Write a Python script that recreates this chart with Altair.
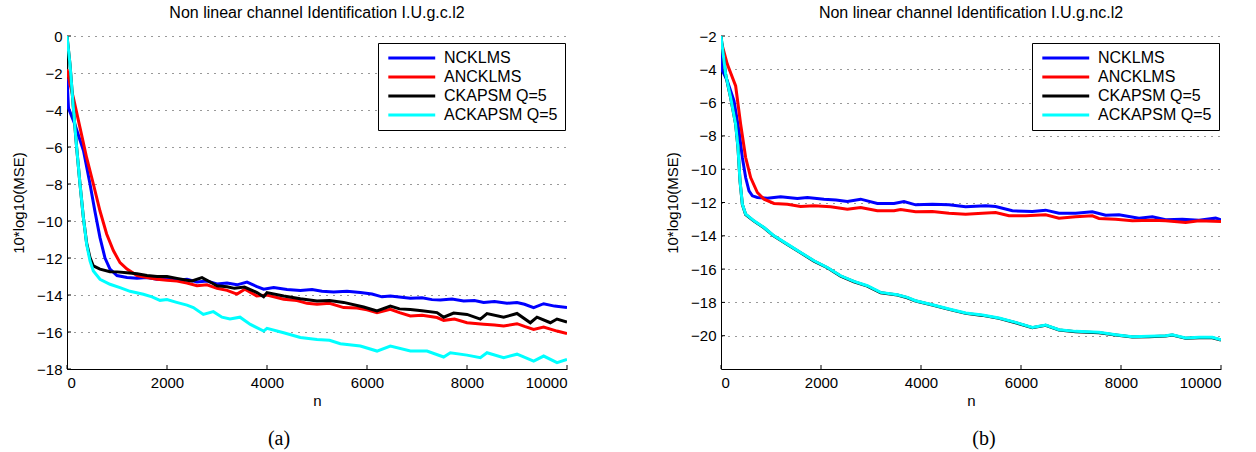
import altair as alt
import pandas as pd

SERIES = ["NCKLMS", "ANCKLMS", "CKAPSM Q=5", "ACKAPSM Q=5"]
COLORS = ["#0000ff", "#ff0000", "#000000", "#00ffff"]

TITLE_A = "Non linear channel Identification I.U.g.c.l2"
TITLE_B = "Non linear channel Identification I.U.g.nc.l2"
X_TICKS = [0, 2000, 4000, 6000, 8000, 10000]
Y_TICKS_A = [0, -2, -4, -6, -8, -10, -12, -14, -16, -18]
Y_TICKS_B = [-2, -4, -6, -8, -10, -12, -14, -16, -18, -20]
CAPTIONS = ["(a)", "(b)"]

# ---- panel (a): [n, 10*log10(MSE)] ----
a_ncklms = [[0, -2.3], [30, -3.9], [160, -4.8], [330, -6.2], [460, -8.0], [560, -9.5],
            [660, -10.9], [760, -12.0], [860, -12.6], [1000, -12.95], [1200, -13.05],
            [1400, -13.1], [1600, -13.05], [1800, -13.15], [2000, -13.1], [2200, -13.2],
            [2400, -13.15], [2600, -13.3], [2800, -13.25], [3000, -13.4], [3200, -13.35],
            [3400, -13.45], [3600, -13.3], [3800, -13.55], [3933, -13.69], [4133, -13.6],
            [4400, -13.7], [4667, -13.75], [4900, -13.7], [5100, -13.8], [5333, -13.84],
            [5600, -13.8], [5867, -13.87], [6100, -13.95], [6300, -14.1], [6467, -14.05],
            [6867, -14.18], [7100, -14.15], [7300, -14.25], [7467, -14.27], [7700, -14.22],
            [7933, -14.32], [8150, -14.3], [8333, -14.41], [8550, -14.35], [8800, -14.45],
            [9000, -14.41], [9150, -14.5], [9333, -14.68], [9533, -14.47], [9750, -14.6],
            [10000, -14.68]]
a_ancklms = [[0, -1.8], [60, -2.6], [127, -3.33], [260, -4.95], [393, -6.58], [527, -8.0],
             [660, -9.46], [793, -10.7], [927, -11.6], [1060, -12.25], [1200, -12.6],
             [1400, -12.95], [1600, -13.05], [1800, -13.15], [2000, -13.2], [2200, -13.25],
             [2400, -13.35], [2600, -13.5], [2800, -13.45], [3000, -13.64], [3200, -13.75],
             [3400, -13.95], [3557, -13.69], [3794, -14.05], [4000, -14.0], [4333, -14.23],
             [4600, -14.3], [4800, -14.45], [5000, -14.5], [5250, -14.45], [5533, -14.68],
             [5800, -14.7], [6000, -14.8], [6200, -14.95], [6467, -14.77], [6650, -14.95],
             [6867, -15.13], [7100, -15.1], [7400, -15.22], [7533, -15.37], [7750, -15.3],
             [8000, -15.5], [8333, -15.58], [8550, -15.62], [8733, -15.68], [9000, -15.55],
             [9150, -15.7], [9333, -15.86], [9533, -15.73], [9800, -15.95], [10000, -16.09]]
a_ckapsm = [[0, 0.0], [60, -1.53], [127, -3.87], [193, -6.04], [260, -8.0], [327, -9.8],
            [393, -11.2], [460, -11.98], [527, -12.43], [660, -12.6], [860, -12.74],
            [1000, -12.75], [1200, -12.8], [1400, -12.85], [1600, -12.95], [1800, -13.0],
            [2000, -13.0], [2200, -13.1], [2400, -13.2], [2500, -13.24], [2700, -13.06],
            [2900, -13.35], [3000, -13.5], [3200, -13.55], [3350, -13.64], [3550, -13.57],
            [3800, -13.87], [3933, -14.09], [4000, -13.87], [4333, -14.05], [4667, -14.2],
            [5000, -14.32], [5250, -14.3], [5533, -14.4], [5933, -14.65], [6200, -14.86],
            [6467, -14.6], [6650, -14.75], [6867, -14.78], [7100, -14.85], [7400, -14.95],
            [7533, -15.2], [7733, -14.98], [8000, -15.05], [8267, -15.3], [8400, -15.0],
            [8733, -15.2], [9000, -15.0], [9267, -15.5], [9400, -15.2], [9667, -15.5],
            [9800, -15.3], [10000, -15.46]]
a_ackapsm = [[0, 0.0], [60, -1.53], [127, -3.87], [193, -6.04], [260, -8.0], [327, -9.8],
             [393, -11.26], [460, -12.16], [527, -12.7], [660, -13.15], [860, -13.42],
             [1060, -13.6], [1260, -13.8], [1527, -13.96], [1700, -14.1], [1860, -14.29],
             [2000, -14.25], [2193, -14.4], [2400, -14.55], [2527, -14.68], [2727, -15.05],
             [2927, -14.9], [3100, -15.2], [3260, -15.3], [3460, -15.2], [3667, -15.59],
             [3933, -15.95], [4000, -15.8], [4333, -16.04], [4667, -16.3], [5000, -16.4],
             [5250, -16.45], [5467, -16.63], [5867, -16.76], [6200, -17.03], [6467, -16.76],
             [6867, -17.03], [7200, -17.03], [7533, -17.35], [7667, -17.12], [8000, -17.25],
             [8267, -17.39], [8400, -17.12], [8733, -17.39], [9000, -17.2], [9333, -17.57],
             [9533, -17.3], [9800, -17.66], [10000, -17.48]]

# ---- panel (b) ----
b_ncklms = [[0, -2.1], [15, -4.0], [127, -4.7], [260, -5.9], [360, -7.7], [427, -9.3],
            [493, -10.5], [560, -11.3], [627, -11.6], [727, -11.7], [927, -11.74],
            [1193, -11.66], [1527, -11.76], [1727, -11.7], [2060, -11.8], [2300, -11.85],
            [2527, -11.94], [2793, -11.8], [3127, -12.06], [3460, -12.06], [3660, -11.94],
            [3893, -12.14], [4227, -12.1], [4560, -12.14], [4893, -12.26], [5293, -12.2],
            [5493, -12.24], [5827, -12.5], [6227, -12.54], [6493, -12.46], [6760, -12.64],
            [7093, -12.64], [7427, -12.56], [7693, -12.76], [7960, -12.74], [8360, -12.94],
            [8627, -12.86], [8893, -13.04], [9227, -13.0], [9560, -13.06], [9893, -12.94],
            [10000, -13.04]]
b_ancklms = [[0, -2.3], [127, -3.7], [293, -5.0], [393, -7.3], [493, -9.3], [593, -10.5],
             [727, -11.4], [860, -11.8], [1060, -12.06], [1327, -12.1], [1593, -12.24],
             [1860, -12.2], [2193, -12.26], [2527, -12.4], [2793, -12.3], [3127, -12.5],
             [3460, -12.5], [3593, -12.42], [3893, -12.56], [4227, -12.54], [4560, -12.64],
             [4893, -12.7], [5227, -12.64], [5493, -12.6], [5760, -12.8], [6093, -12.8],
             [6493, -12.74], [6760, -12.94], [7093, -12.86], [7427, -12.8], [7560, -12.96],
             [7893, -13.0], [8227, -13.1], [8627, -13.06], [8893, -13.1], [9293, -13.2],
             [9560, -13.1], [10000, -13.14]]
b_ckapsm = [[0, -2.0], [93, -4.32], [193, -5.72], [293, -7.3], [340, -8.72], [380, -10.7],
            [427, -12.12], [493, -12.72], [660, -13.12], [860, -13.52], [1060, -14.02],
            [1327, -14.52], [1593, -15.02], [1860, -15.52], [2127, -15.92], [2393, -16.42],
            [2660, -16.76], [2927, -17.02], [3193, -17.42], [3527, -17.56], [3727, -17.72],
            [3893, -17.92], [4227, -18.16], [4560, -18.42], [4893, -18.66], [5227, -18.78],
            [5560, -18.96], [5893, -19.22], [6227, -19.52], [6493, -19.38], [6760, -19.66],
            [7093, -19.76], [7560, -19.82], [7893, -19.96], [8227, -20.08], [8560, -20.06],
            [8893, -20.02], [9027, -19.96], [9293, -20.16], [9560, -20.12], [9827, -20.12],
            [10000, -20.26]]
b_ackapsm = [[0, -2.0], [93, -4.3], [193, -5.7], [293, -7.3], [340, -8.7], [380, -10.7],
             [427, -12.1], [493, -12.7], [660, -13.1], [860, -13.5], [1060, -14.0],
             [1327, -14.5], [1593, -15.0], [1860, -15.5], [2127, -15.9], [2393, -16.4],
             [2660, -16.74], [2927, -17.0], [3193, -17.4], [3527, -17.54], [3727, -17.7],
             [3893, -17.9], [4227, -18.14], [4560, -18.4], [4893, -18.64], [5227, -18.76],
             [5560, -18.94], [5893, -19.2], [6227, -19.5], [6493, -19.36], [6760, -19.64],
             [7093, -19.74], [7560, -19.8], [7893, -19.94], [8227, -20.06], [8560, -20.04],
             [8893, -20.0], [9027, -19.94], [9293, -20.14], [9560, -20.1], [9827, -20.1],
             [10000, -20.24]]

FONT = "Liberation Sans"
W, H = 500, 333
TICK_LEN = 4


def make_frame(all_pairs):
    rows = []
    for name, pairs in zip(SERIES, all_pairs):
        for n, v in pairs:
            rows.append({"n": n, "mse": v, "alg": name})
    return pd.DataFrame(rows)


def panel(all_pairs, title, ydomain, yticks, caption, cap_x):
    df = make_frame(all_pairs)
    color = alt.Color(
        "alg:N",
        scale=alt.Scale(domain=SERIES, range=COLORS),
        legend=alt.Legend(
            orient="none", legendX=311, legendY=7, title=None,
            symbolType="M-1,0H9", symbolSize=88, symbolStrokeWidth=3,
            symbolFillColor="transparent",
            labelFont=FONT, labelFontSize=16, labelColor="black", labelOffset=43,
            padding=7, rowPadding=3, strokeColor="black", fillColor="white",
        ),
    )
    x = alt.X("n:Q", scale=alt.Scale(domain=[0, 10000], nice=False),
              axis=alt.Axis(values=X_TICKS, format="d", grid=False, ticks=False,
                            domainColor="black", labelFont=FONT, labelFontSize=15,
                            labelColor="black", labelPadding=6, title="n",
                            titleFont=FONT, titleFontSize=15, titleFontWeight="normal",
                            titleColor="black", titlePadding=3))
    y = alt.Y("mse:Q", scale=alt.Scale(domain=ydomain, nice=False, zero=False),
              axis=alt.Axis(values=yticks, grid=True, gridDash=[1, 6], gridColor="#333333",
                            gridOpacity=1, ticks=False, domainColor="black",
                            labelFont=FONT, labelFontSize=15, labelColor="black",
                            labelPadding=5, title="10*log10(MSE)", titleFont=FONT,
                            titleFontSize=15, titleFontWeight="normal", titleColor="black",
                            titlePadding=10))
    base = alt.Chart(df).mark_line(strokeWidth=3, clip=True).encode(x=x, y=y, color=color)
    lines = [base.transform_filter(alt.datum.alg == s) for s in SERIES]
    # inward tick marks (MATLAB style) at the tick values
    xt = alt.Chart(pd.DataFrame({"n": X_TICKS})).mark_rule(color="black", strokeWidth=1).encode(
        x=x, y=alt.value(H), y2=alt.value(H - TICK_LEN))
    yt = alt.Chart(pd.DataFrame({"mse": yticks})).mark_rule(color="black", strokeWidth=1).encode(
        y=y, x=alt.value(0), x2=alt.value(TICK_LEN))
    cap = alt.Chart(pd.DataFrame({"cap": [caption]})).mark_text(
        font="Liberation Serif", fontSize=20, baseline="middle", color="black"
    ).encode(text="cap:N", x=alt.value(cap_x), y=alt.value(403))
    return alt.layer(xt, yt, *lines, cap).properties(
        width=W, height=H,
        title=alt.TitleParams(title, font=FONT, fontSize=16, fontWeight="normal",
                              color="black", offset=8, anchor="middle"),
    )


pa = panel([a_ncklms, a_ancklms, a_ckapsm, a_ackapsm], TITLE_A, [-18, 0], Y_TICKS_A,
           CAPTIONS[0], 212)
pb = panel([b_ncklms, b_ancklms, b_ckapsm, b_ackapsm], TITLE_B, [-22, -2], Y_TICKS_B,
           CAPTIONS[1], 263)

chart = alt.hconcat(pa, pb, spacing=154, bounds="flush").resolve_scale(
    color="independent", y="independent"
).properties(
    padding={"left": 11, "top": 4, "right": 10, "bottom": 0},
    background="white",
).configure_view(stroke="transparent")

chart.save("out.html", embed_options={"renderer": "svg", "actions": False})
